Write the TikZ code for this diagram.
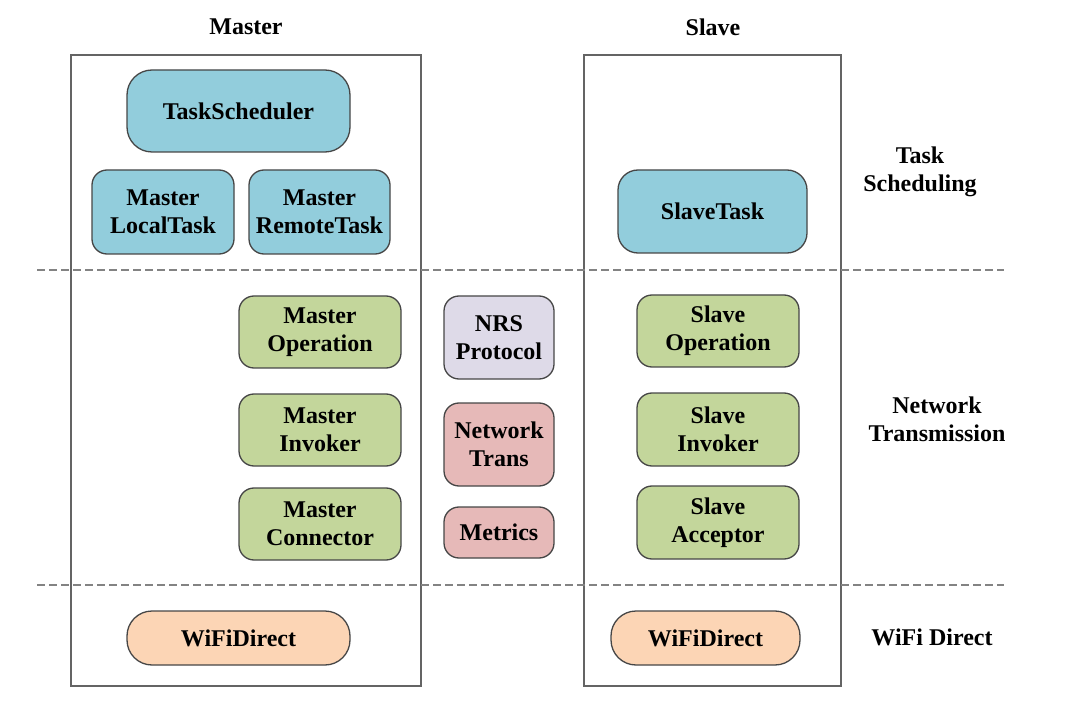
\documentclass[tikz,border=0pt]{standalone}
\usepackage{fontspec}
\setmainfont{Liberation Serif}
\usepackage{tikz}
\usetikzlibrary{positioning}
\definecolor{msblue}{RGB}{146,205,220}
\definecolor{msgreen}{RGB}{195,214,155}
\definecolor{mslilac}{RGB}{222,218,232}
\definecolor{mspink}{RGB}{230,185,184}
\definecolor{mspeach}{RGB}{252,213,181}
\definecolor{msborder}{RGB}{70,70,70}
\definecolor{msframe}{RGB}{100,100,100}
\tikzstyle{module} = [draw=msborder, line width=1.3pt, rounded corners=15pt, align=center, font=\bfseries, inner sep=0pt]
\tikzstyle{schedbox} = [module, fill=msblue]
\tikzstyle{netbox} = [module, fill=msgreen, minimum width=162pt, minimum height=72pt]
\tikzstyle{midbox} = [module, minimum width=110pt]
\tikzstyle{wifibox} = [module, fill=mspeach, rounded corners=25pt, minimum height=54pt]
\tikzstyle{side} = [draw=msframe, line width=1.3pt, inner sep=0pt]
\tikzstyle{layerline} = [msframe!80, line width=1.2pt, dash pattern=on 8pt off 4pt]
\tikzstyle{caption} = [font=\bfseries, align=center]

\begin{document}
\begin{tikzpicture}[x=1pt, y=-1pt]
\fontsize{24}{28}\selectfont
\useasboundingbox (0,0) rectangle (1074,703);

% Frames
\node[side, minimum width=350pt, minimum height=631pt] (master) at (246,370.5) {};
\node[side, minimum width=257pt, minimum height=631pt] (slave) at (712.5,370.5) {};
\node[caption] (mastertitle) at (246,27) {Master};
\node[caption] (slavetitle) at (713,27) {Slave};

% Layers
\coordinate (l1a) at (37,270);
\coordinate (l1b) at (1004,270);
\coordinate (l2a) at (37,585);
\coordinate (l2b) at (1004,585);
\draw[layerline] (l1a) -- (l1b);
\draw[layerline] (l2a) -- (l2b);

% Task scheduling
\node[schedbox, rounded corners=25pt, minimum width=223pt, minimum height=82pt] (sched) at (238.5,111) {TaskScheduler};
\node[schedbox, minimum width=142pt, minimum height=84pt] (mlocal) at (163,212) {Master\\LocalTask};
\node[schedbox, minimum width=141pt, minimum height=84pt] (mremote) at (319.5,212) {Master\\RemoteTask};
\node[schedbox, rounded corners=20pt, minimum width=189pt, minimum height=83pt] (stask) at (712.5,211.5) {SlaveTask};

% Network transmission
\node[netbox] (mop) at (320,332) {Master\\Operation};
\node[netbox] (minv) at (320,430) {Master\\Invoker};
\node[netbox] (mcon) at (320,524) {Master\\Connector};
\node[midbox, fill=mslilac, minimum height=83pt] (nrs) at (499,337.5) {NRS\\Protocol};
\node[midbox, fill=mspink, minimum height=83pt] (trans) at (499,444.5) {Network\\Trans};
\node[midbox, fill=mspink, minimum height=51pt] (metrics) at (499,532.5) {Metrics};
\node[netbox] (sop) at (718,331) {Slave\\Operation};
\node[netbox, minimum height=73pt] (sinv) at (718,429.5) {Slave\\Invoker};
\node[netbox, minimum height=73pt] (sacc) at (718,522.5) {Slave\\Acceptor};

% WiFi direct
\node[wifibox, minimum width=223pt] (mwifi) at (238.5,638) {WiFiDirect};
\node[wifibox, minimum width=189pt] (swifi) at (705.5,638) {WiFiDirect};

% Layer names
\node[caption] (tasklayer) at (920,172) {Task\\Scheduling};
\node[caption] (netlayer) at (937,419) {Network\\Transmission};
\node[caption] (wifilayer) at (932,637) {WiFi Direct};
\end{tikzpicture}
\end{document}
